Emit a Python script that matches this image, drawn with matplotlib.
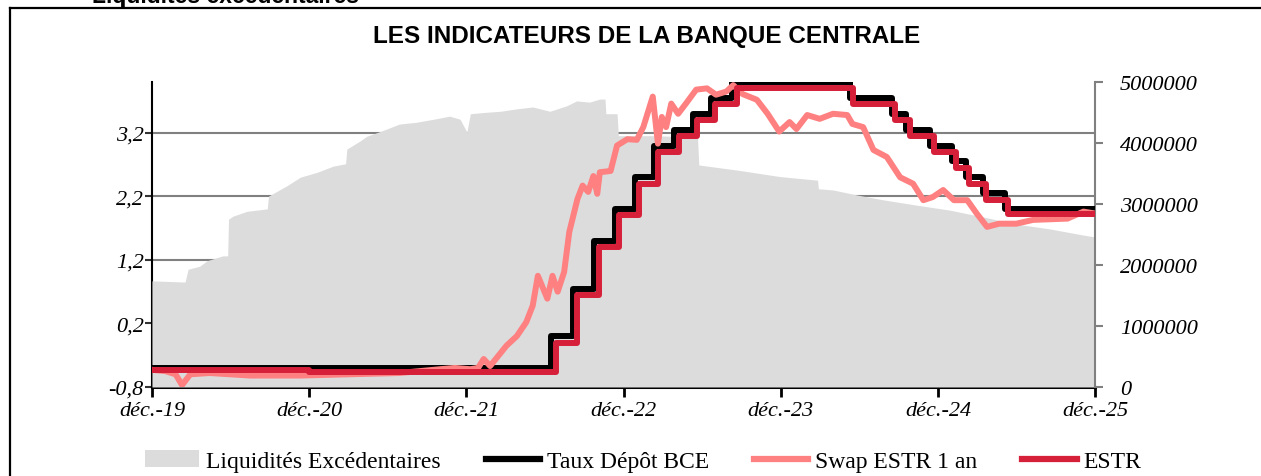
import matplotlib
matplotlib.use('Agg')
import matplotlib.pyplot as plt
from matplotlib.lines import Line2D
from matplotlib.patches import Patch
import pandas as pd

# Liquidités excédentaires (axe de droite)
liq_dates = ['2019-12-01', '2020-02-16', '2020-02-23', '2020-03-21', '2020-04-07', '2020-05-14',
             '2020-05-25', '2020-05-27', '2020-06-06', '2020-07-09', '2020-08-25', '2020-08-28',
             '2020-10-10', '2020-11-10', '2020-12-19', '2021-01-25', '2021-02-23', '2021-02-26',
             '2021-03-28', '2021-04-13', '2021-05-19', '2021-06-28', '2021-08-07', '2021-09-16',
             '2021-10-23', '2021-11-16', '2021-12-02', '2021-12-10', '2022-01-10', '2022-02-18',
             '2022-03-28', '2022-05-04', '2022-06-13', '2022-07-22', '2022-08-14', '2022-09-13',
             '2022-10-07', '2022-10-19', '2022-10-21', '2022-11-16', '2022-11-19', '2023-02-01',
             '2023-05-22', '2023-05-25', '2023-08-28', '2023-11-29', '2024-02-25', '2024-02-27',
             '2024-04-01', '2024-05-25', '2024-07-25', '2024-10-13', '2024-12-28', '2025-03-14',
             '2025-06-01', '2025-08-19', '2025-11-04', '2025-12-01']
liq_vals = [1740000, 1720000, 1930000, 1980000, 2070000, 2150000,
            2150000, 2750000, 2800000, 2880000, 2920000, 3130000,
            3300000, 3440000, 3520000, 3620000, 3660000, 3900000,
            4030000, 4110000, 4200000, 4310000, 4340000, 4390000,
            4440000, 4390000, 4180000, 4480000, 4500000, 4520000,
            4560000, 4590000, 4520000, 4610000, 4690000, 4670000,
            4720000, 4720000, 4480000, 4480000, 4120000, 4120000,
            4100000, 3640000, 3550000, 3450000, 3390000, 3250000,
            3230000, 3150000, 3070000, 2980000, 2900000, 2790000,
            2670000, 2590000, 2490000, 2460000]

# Taux de dépôt BCE (paliers)
dfr_dates = ['2019-12-01', '2022-06-16', '2022-08-06', '2022-09-24', '2022-11-11', '2022-12-27',
             '2023-02-09', '2023-03-29', '2023-05-11', '2023-06-22', '2023-08-11', '2024-05-10',
             '2024-08-15', '2024-09-18', '2024-11-13', '2025-01-03', '2025-02-03', '2025-03-15',
             '2025-05-05', '2025-12-01']
dfr_vals = [-0.5, 0.0, 0.75, 1.5, 2.0, 2.5,
            3.0, 3.25, 3.5, 3.75, 4.0, 3.75,
            3.5, 3.25, 3.0, 2.75, 2.5, 2.25,
            2.0, 2.0]

# ESTR
estr_dates = ['2019-12-01', '2020-12-01', '2022-06-26', '2022-08-16', '2022-10-04', '2022-11-21',
              '2023-01-06', '2023-02-19', '2023-04-08', '2023-05-21', '2023-07-02', '2023-08-21',
              '2024-05-18', '2024-08-23', '2024-09-26', '2024-11-21', '2025-01-11', '2025-02-11',
              '2025-03-23', '2025-05-13', '2025-12-01']
estr_vals = [-0.54, -0.57, -0.1, 0.65, 1.4, 1.9,
             2.4, 2.9, 3.15, 3.4, 3.65, 3.9,
             3.65, 3.4, 3.15, 2.9, 2.65, 2.4,
             2.15, 1.92, 1.92]

# Swap ESTR 1 an
swap_dates = ['2019-12-01', '2020-01-01', '2020-01-25', '2020-02-09', '2020-02-28', '2020-04-13',
              '2020-07-16', '2020-11-10', '2021-03-04', '2021-06-28', '2021-10-01', '2021-11-04',
              '2021-12-10', '2021-12-28', '2022-01-10', '2022-01-25', '2022-03-04', '2022-03-28',
              '2022-04-19', '2022-05-04', '2022-05-16', '2022-06-07', '2022-06-19', '2022-07-01',
              '2022-07-16', '2022-07-28', '2022-08-16', '2022-08-28', '2022-09-10', '2022-09-22',
              '2022-10-01', '2022-10-07', '2022-11-01', '2022-11-16', '2022-12-10', '2023-01-01',
              '2023-01-16', '2023-02-07', '2023-02-19', '2023-02-28', '2023-03-10', '2023-03-22',
              '2023-04-07', '2023-04-25', '2023-05-19', '2023-06-13', '2023-07-04', '2023-07-28',
              '2023-08-13', '2023-09-04', '2023-10-07', '2023-11-01', '2023-11-28', '2023-12-22',
              '2024-01-07', '2024-02-01', '2024-03-01', '2024-04-01', '2024-05-04', '2024-05-16',
              '2024-06-10', '2024-07-04', '2024-08-04', '2024-09-04', '2024-10-04', '2024-10-28',
              '2024-11-19', '2024-12-13', '2025-01-07', '2025-02-07', '2025-03-01', '2025-03-25',
              '2025-04-22', '2025-06-01', '2025-07-10', '2025-09-28', '2025-11-04', '2025-12-01']
swap_vals = [-0.53, -0.55, -0.6, -0.77, -0.6, -0.58,
             -0.62, -0.62, -0.6, -0.58, -0.52, -0.5,
             -0.52, -0.5, -0.36, -0.47, -0.15, 0.0,
             0.22, 0.48, 0.95, 0.59, 0.95, 0.7,
             1.01, 1.64, 2.16, 2.37, 2.27, 2.52,
             2.24, 2.58, 2.6, 3.0, 3.1, 3.09,
             3.29, 3.77, 3.03, 3.45, 3.29, 3.66,
             3.5, 3.66, 3.88, 3.9, 3.8, 3.85,
             3.95, 3.81, 3.72, 3.5, 3.22, 3.37,
             3.26, 3.48, 3.42, 3.5, 3.48, 3.34,
             3.29, 2.93, 2.82, 2.5, 2.4, 2.14,
             2.19, 2.3, 2.14, 2.14, 1.93, 1.72,
             1.77, 1.77, 1.83, 1.85, 1.96, 1.93]

xtick_dates = ['2019-12-01', '2020-12-01', '2021-12-01', '2022-12-01', '2023-12-01', '2024-12-01', '2025-12-01']
xtick_labels = ['déc.-19', 'déc.-20', 'déc.-21', 'déc.-22', 'déc.-23', 'déc.-24', 'déc.-25']
left_ticks = [-0.8, 0.2, 1.2, 2.2, 3.2]
left_labels = ['-0,8', '0,2', '1,2', '2,2', '3,2']
right_ticks = [0, 1000000, 2000000, 3000000, 4000000, 5000000]
right_labels = ['0', '1000000', '2000000', '3000000', '4000000', '5000000']

c_area = '#dcdcdc'
c_swap = '#ff8080'
c_estr = '#d6203a'
serif = 'Liberation Serif'
lw = 4.3

fig = plt.figure(figsize=(12.61, 4.77), dpi=100)
ax = fig.add_axes([0.1205, 0.1866, 0.7479, 0.6394])
ax_area = ax.twinx()
ax_lines = ax.twinx()

# grille + axe de gauche
ax.set_ylim(-0.8, 4.0)
ax.set_yticks(left_ticks)
ax.set_yticklabels(left_labels, fontfamily=serif, fontstyle='italic', fontsize=16)
ax.set_xlim(pd.Timestamp('2019-12-01'), pd.Timestamp('2025-12-01'))
ax.set_xticks(pd.to_datetime(xtick_dates))
ax.set_xticklabels(xtick_labels, fontfamily=serif, fontstyle='italic', fontsize=16)
ax.grid(axis='y', color='#808080', linewidth=1.5)
ax.tick_params(axis='y', direction='out', length=5, width=1.5, color='#333333', pad=1)
ax.tick_params(axis='x', direction='out', length=7, width=2, color='black', pad=3)
for s in ['top', 'right']:
    ax.spines[s].set_visible(False)
ax.spines['left'].set_linewidth(1.5)
ax.spines['bottom'].set_linewidth(2.2)
ax.spines['bottom'].set_zorder(5)

# liquidités (zone grise)
ld = pd.to_datetime(liq_dates)
ax_area.fill_between(ld, 0, liq_vals, color=c_area, linewidth=0)
ax_area.set_ylim(0, 5000000)
ax_area.set_yticks(right_ticks)
ax_area.set_yticklabels(right_labels, fontfamily=serif, fontstyle='italic', fontsize=16)
ax_area.tick_params(axis='y', direction='out', length=6, width=1.5, color='#808080', pad=12)
for s in ['top', 'left', 'bottom']:
    ax_area.spines[s].set_visible(False)
ax_area.spines['right'].set_color('#808080')
ax_area.spines['right'].set_linewidth(1.5)

# courbes de taux
ax_lines.plot(pd.to_datetime(dfr_dates), dfr_vals, drawstyle='steps-post', color='black', lw=lw)
ax_lines.plot(pd.to_datetime(swap_dates), swap_vals, color=c_swap, lw=lw, solid_joinstyle='round')
ax_lines.plot(pd.to_datetime(estr_dates), estr_vals, drawstyle='steps-post', color=c_estr, lw=lw)
ax_lines.set_ylim(-0.8, 4.0)
ax_lines.set_yticks([])
for s in ax_lines.spines.values():
    s.set_visible(False)

# bordure et titre
fig.add_artist(Line2D([10 / 1261, 1.0], [1 - 9 / 477, 1 - 9 / 477], color='black', lw=1.6))
fig.add_artist(Line2D([10 / 1261, 10 / 1261], [0, 1 - 9 / 477], color='black', lw=1.6))
fig.add_artist(Line2D([122 / 1261, 122 / 1261], [1 - 9 / 477, 1.0], color='black', lw=1.2))
fig.text(92 / 1261, 1 - 3 / 477, 'Liquidités excédentaires', fontfamily='Liberation Sans',
         fontweight='bold', fontsize=16.5, ha='left', va='baseline')
fig.text(0.513, 1 - 37 / 477, 'LES INDICATEURS DE LA BANQUE CENTRALE', fontfamily='Liberation Sans',
         fontweight='bold', fontsize=17.5, ha='center', va='center')

handles = [Patch(facecolor=c_area, edgecolor='none'),
           Line2D([], [], color='black', lw=4.5),
           Line2D([], [], color=c_swap, lw=4.5),
           Line2D([], [], color=c_estr, lw=4.5)]
labels = ['Liquidités Excédentaires', 'Taux Dépôt BCE', 'Swap ESTR 1 an', 'ESTR']
fig.legend(handles, labels, loc='center', bbox_to_anchor=(0.51, 1 - 462 / 477), ncol=4,
           frameon=False, prop={'family': serif, 'size': 17}, handlelength=2.3,
           handletextpad=0.3, columnspacing=1.9)

fig.savefig('out.png', dpi=100)
